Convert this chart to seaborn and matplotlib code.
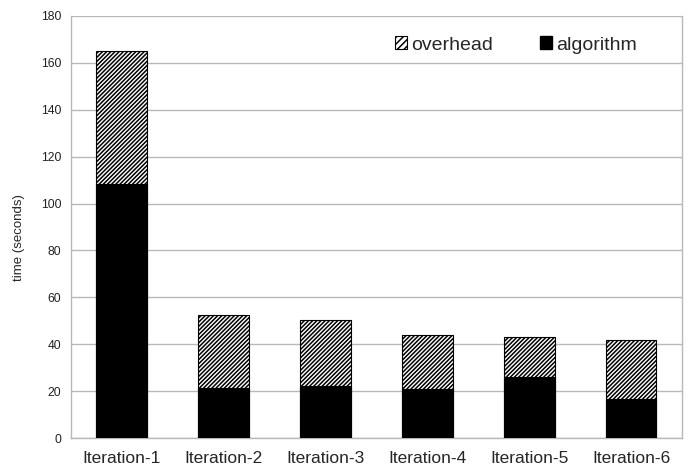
import matplotlib
matplotlib.use("Agg")
import matplotlib.pyplot as plt
from matplotlib.patches import Patch
import seaborn as sns
import pandas as pd

iterations = ["Iteration-1", "Iteration-2", "Iteration-3", "Iteration-4", "Iteration-5", "Iteration-6"]
algorithm = [108.4, 21.5, 22.3, 20.9, 26.0, 16.8]
overhead = [56.7, 31.0, 28.0, 22.9, 17.0, 24.9]
y_ticks = [0, 20, 40, 60, 80, 100, 120, 140, 160, 180]

HATCH = "////////"

sns.set_style("white")
plt.rcParams["font.family"] = ["Liberation Sans", "DejaVu Sans"]
plt.rcParams["hatch.linewidth"] = 1.1

df = pd.DataFrame({
    "iteration": iterations,
    "algorithm": algorithm,
    "total": [a + o for a, o in zip(algorithm, overhead)],
})

fig = plt.figure(figsize=(6.88, 4.65), dpi=100)
ax = fig.add_axes([0.1032, 0.058, 0.888, 0.9076])

grid_c = "#b8b8b8"

# total height (overhead stacked on algorithm), hatched
sns.barplot(data=df, x="iteration", y="total", color="white", width=0.5,
            edgecolor="black", linewidth=0.8, saturation=1, ax=ax, zorder=2)
n_tot = len(ax.patches)
for p in ax.patches[:n_tot]:
    p.set_hatch(HATCH)
    p.set_facecolor("white")
    p.set_edgecolor("black")

# algorithm portion, solid black
sns.barplot(data=df, x="iteration", y="algorithm", color="black", width=0.5,
            edgecolor="black", linewidth=0.8, saturation=1, ax=ax, zorder=3)

ax.set_xlim(-0.5, 5.5)
ax.set_ylim(0, 180)
ax.set_yticks(y_ticks)
ax.set_yticklabels([str(v) for v in y_ticks], fontsize=8.7, color="#222222")
ax.yaxis.grid(True, color=grid_c, linewidth=1.0, zorder=0)
ax.set_axisbelow(True)

ax.set_xticks(range(len(iterations)))
ax.set_xticklabels(iterations, fontsize=12.5)
ax.set_xticks([i - 0.5 for i in range(len(iterations) + 1)], minor=True)
ax.tick_params(axis="x", which="major", length=0, pad=9)
ax.tick_params(axis="x", which="minor", length=5, color=grid_c, width=1, direction="out")
ax.tick_params(axis="y", which="major", length=5, color=grid_c, width=1, direction="out", pad=2)

ax.set_xlabel("")
ax.set_ylabel("time (seconds)", fontsize=9.5)
ax.yaxis.set_label_coords(-0.075, 0.476)

for side in ["left", "bottom", "right"]:
    ax.spines[side].set_color(grid_c)
    ax.spines[side].set_linewidth(1.0)
ax.spines["top"].set_visible(False)

handles = [
    Patch(facecolor="white", edgecolor="black", hatch="/////", linewidth=0.8, label="overhead"),
    Patch(facecolor="black", edgecolor="black", label="algorithm"),
]
ax.legend(handles=handles, ncol=2, frameon=False, fontsize=14,
          loc="center", bbox_to_anchor=(0.728, 0.931),
          handlelength=0.65, handleheight=0.65, handletextpad=0.2, columnspacing=2.4)

fig.savefig("out.png", dpi=100)
